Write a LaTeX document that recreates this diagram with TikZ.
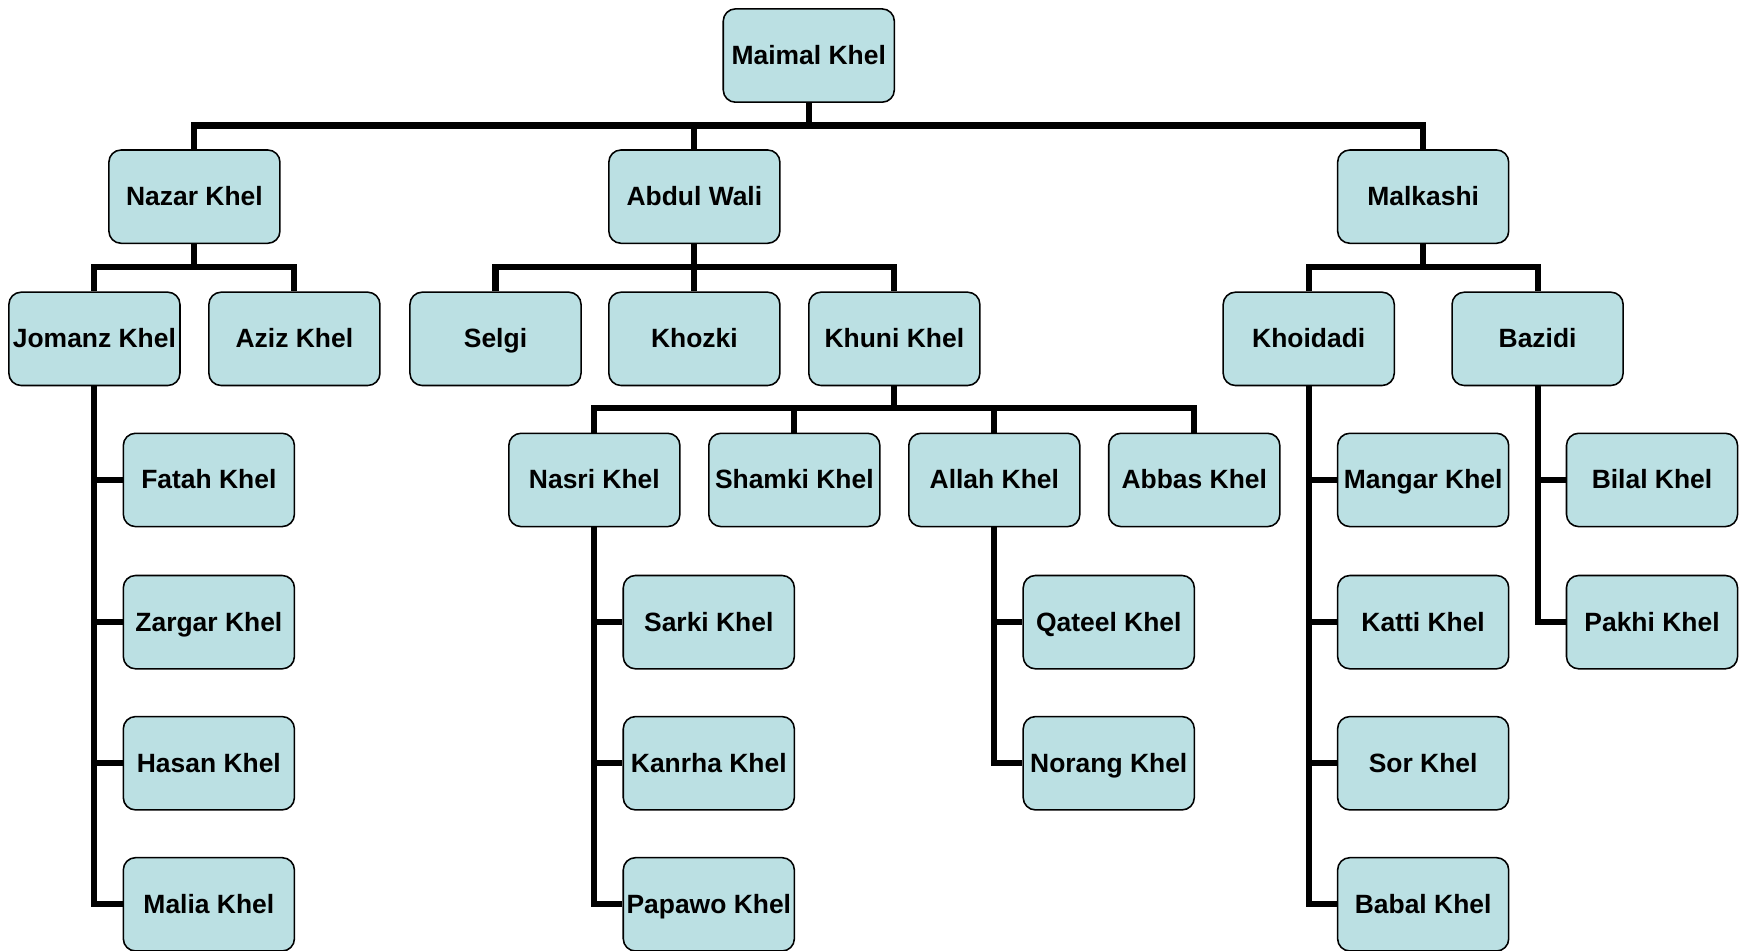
\documentclass[tikz,border=0pt]{standalone}
\usepackage{fontspec}
\setmainfont{Liberation Sans}
\begin{document}
\begin{tikzpicture}[x=1pt,y=-1pt,
  box/.style={draw=black,line width=1.4pt,fill=boxfill,rounded corners=11pt,
    minimum width=154pt,minimum height=84pt,inner sep=0pt,
    text height=19pt,text depth=3pt,
    font=\fontsize{23.8}{27}\selectfont\bfseries},
  conn/.style={draw=black,line width=5.5pt,line join=miter}]
\definecolor{boxfill}{RGB}{187,224,227}
\useasboundingbox (0,0) rectangle (1568,856);
% level 0
\node[box] (root) at (728,50) {Maimal Khel};
% level 1
\node[box] (nazar) at (175,177) {Nazar Khel};
\node[box] (abdul) at (625,177) {Abdul Wali};
\node[box] (malk) at (1281,177) {Malkashi};
% level 2
\node[box] (jomanz) at (85,305) {Jomanz Khel};
\node[box] (aziz) at (265,305) {Aziz Khel};
\node[box] (selgi) at (446,305) {Selgi};
\node[box] (khozki) at (625,305) {Khozki};
\node[box] (khuni) at (805,305) {Khuni Khel};
\node[box] (khoi) at (1178,305) {Khoidadi};
\node[box] (bazidi) at (1384,305) {Bazidi};
% level 3
\node[box] (fatah) at (188,432) {Fatah Khel};
\node[box] (nasri) at (535,432) {Nasri Khel};
\node[box] (shamki) at (715,432) {Shamki Khel};
\node[box] (allah) at (895,432) {Allah Khel};
\node[box] (abbas) at (1075,432) {Abbas Khel};
\node[box] (mangar) at (1281,432) {Mangar Khel};
\node[box] (bilal) at (1487,432) {Bilal Khel};
% level 4
\node[box] (zargar) at (188,560) {Zargar Khel};
\node[box] (sarki) at (638,560) {Sarki Khel};
\node[box] (qateel) at (998,560) {Qateel Khel};
\node[box] (katti) at (1281,560) {Katti Khel};
\node[box] (pakhi) at (1487,560) {Pakhi Khel};
% level 5
\node[box] (hasan) at (188,687) {Hasan Khel};
\node[box] (kanrha) at (638,687) {Kanrha Khel};
\node[box] (norang) at (998,687) {Norang Khel};
\node[box] (sor) at (1281,687) {Sor Khel};
% level 6
\node[box] (malia) at (188,814) {Malia Khel};
\node[box] (papawo) at (638,814) {Papawo Khel};
\node[box] (babal) at (1281,814) {Babal Khel};
% buses
\coordinate (b0) at (728,113);
\coordinate (b1) at (175,240);
\coordinate (b2) at (625,240);
\coordinate (b3) at (1281,240);
\coordinate (b4) at (805,367);
% connectors level 0->1
\draw[conn] (root.south) -- (b0);
\draw[conn] (nazar.north) |- (b0) -| (malk.north);
\draw[conn] (abdul.north) -- (abdul.north |- b0);
% Nazar Khel
\draw[conn] (nazar.south) -- (b1);
\draw[conn] (jomanz.north) |- (b1) -| (aziz.north);
% Abdul Wali
\draw[conn] (abdul.south) -- (b2);
\draw[conn] (selgi.north) |- (b2) -| (khuni.north);
\draw[conn] (khozki.north) -- (khozki.north |- b2);
% Malkashi
\draw[conn] (malk.south) -- (b3);
\draw[conn] (khoi.north) |- (b3) -| (bazidi.north);
% Khuni Khel
\draw[conn] (khuni.south) -- (b4);
\draw[conn] (nasri.north) |- (b4) -| (abbas.north);
\draw[conn] (shamki.north) -- (shamki.north |- b4);
\draw[conn] (allah.north) -- (allah.north |- b4);
% vertical stems
\draw[conn] (jomanz.south) |- (malia.west);
\draw[conn] (jomanz.south |- fatah.west) -- (fatah.west);
\draw[conn] (jomanz.south |- zargar.west) -- (zargar.west);
\draw[conn] (jomanz.south |- hasan.west) -- (hasan.west);
\draw[conn] (nasri.south) |- (papawo.west);
\draw[conn] (nasri.south |- sarki.west) -- (sarki.west);
\draw[conn] (nasri.south |- kanrha.west) -- (kanrha.west);
\draw[conn] (allah.south) |- (norang.west);
\draw[conn] (allah.south |- qateel.west) -- (qateel.west);
\draw[conn] (khoi.south) |- (babal.west);
\draw[conn] (khoi.south |- mangar.west) -- (mangar.west);
\draw[conn] (khoi.south |- katti.west) -- (katti.west);
\draw[conn] (khoi.south |- sor.west) -- (sor.west);
\draw[conn] (bazidi.south) |- (pakhi.west);
\draw[conn] (bazidi.south |- bilal.west) -- (bilal.west);
\end{tikzpicture}
\end{document}
